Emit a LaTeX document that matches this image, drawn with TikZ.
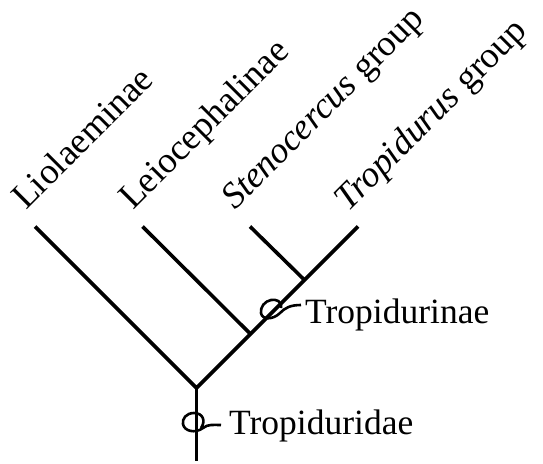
\documentclass[tikz,border=0pt]{standalone}
\usepackage{fontspec}
\setmainfont{Liberation Serif}
\begin{document}
\begin{tikzpicture}[x=1pt,y=-1pt,
  branch/.style={line width=3.6pt},
  cladeloop/.style={line width=2.6pt},
  taxon/.style={rotate=45,anchor=base west,inner sep=0pt,font=\fontsize{36.5}{42}\selectfont},
  clade/.style={anchor=base west,inner sep=0pt,font=\fontsize{35.5}{42}\selectfont}]
\useasboundingbox (0,0) rectangle (543,463);
% tips, internal nodes and stem of the tree
\coordinate (t1) at (35,226.5);
\coordinate (t2) at (142.5,226.5);
\coordinate (t3) at (250,226.5);
\coordinate (t4) at (358,226.5);
\coordinate (root) at (196.5,388);
\coordinate (j2) at (250.5,334);
\coordinate (j3) at (304.5,280);
\coordinate (stem) at (196.5,461);
% branches
\draw[branch] (t1) -- (root) -- (t4);
\draw[branch] (t2) -- (j2);
\draw[branch] (t3) -- (j3);
\draw[branch] (root) -- (stem);
% taxon labels
\node[taxon] (n1) at (26,211) {Liolaeminae};
\node[taxon] (n2) at (133,211) {Leiocephalinae};
\node[taxon] (n3) at (235,211) {\textit{Stenocercus} group};
\node[taxon] (n4) at (348,213) {\textit{Tropidurus} group};
% clade marks: a loop across the branch with a short tail
\draw[cladeloop] (201,428) .. controls (206,421) and (203,413) .. (194,413)
  .. controls (186,413) and (182,419) .. (183,424)
  .. controls (184,431) and (195,434) .. (203,428)
  .. controls (208,424) and (213,425) .. (221,425);
\node[clade] (c1) at (229,434) {Tropiduridae};
\draw[cladeloop] (281,308) .. controls (282,301) and (276,299) .. (271,300)
  .. controls (265,301) and (260,307) .. (261,313)
  .. controls (262,320) and (273,320) .. (280,313)
  .. controls (285,308) and (290,305) .. (301,305);
\node[clade] (c2) at (305,323) {Tropidurinae};
\end{tikzpicture}
\end{document}
